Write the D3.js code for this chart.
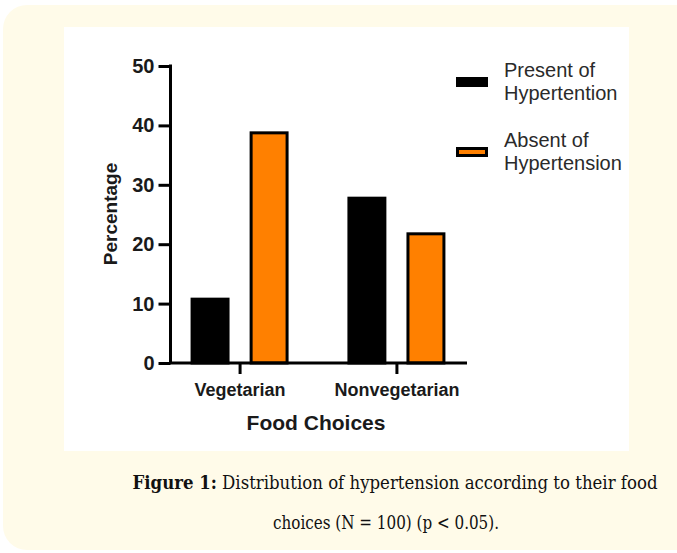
<!DOCTYPE html>
<html>
<head>
<meta charset="utf-8">
<script src="https://cdn.jsdelivr.net/npm/d3@7"></script>
<style>
  body { margin: 0; background: #ffffff; }
  svg { display: block; }
</style>
</head>
<body>
<div id="chart"></div>
<script>
// chart data
var categories = ["Vegetarian", "Nonvegetarian"];
var seriesNames = ["Present of Hypertention", "Absent of Hypertension"];
var presentValues = [11, 28];
var absentValues = [39, 22];
var yTicks = [0, 10, 20, 30, 40, 50];
var legendLines = [["Present of", "Hypertention"], ["Absent of", "Hypertension"]];
var seriesColors = ["#000000", "#ff8000"];

var W = 677, H = 553;

var svg = d3.select("#chart").append("svg")
    .attr("width", W).attr("height", H);

// page background (cream box + white figure panel)
svg.append("rect").attr("x", 3).attr("y", 5).attr("width", 700).attr("height", 545)
    .attr("rx", 24).attr("fill", "#fffbe9");
svg.append("rect").attr("x", 64).attr("y", 27).attr("width", 565).attr("height", 424)
    .attr("fill", "#ffffff");

var yScale = d3.scaleLinear().domain([0, 50]).range([363, 66]);
var xScale = d3.scalePoint().domain(categories).range([169, 467]).padding(0.45);
var subScale = d3.scaleBand().domain(seriesNames).range([-49, 49]).paddingInner(0.34);

var rows = categories.map(function(c, i) {
    return { cat: c, vals: [presentValues[i], absentValues[i]] };
});

// bars
var groups = svg.selectAll(".grp").data(rows).enter().append("g")
    .attr("class", "grp")
    .attr("transform", function(d) { return "translate(" + xScale(d.cat) + ",0)"; });

groups.selectAll("rect")
    .data(function(d) { return d.vals.map(function(v, j) { return { name: seriesNames[j], v: v, j: j }; }); })
    .enter().append("rect")
    .attr("x", function(d) { return subScale(d.name) + 1.5; })
    .attr("y", function(d) { return yScale(d.v) + 1.5; })
    .attr("width", subScale.bandwidth() - 3)
    .attr("height", function(d) { return yScale(0) - yScale(d.v) - 1.5; })
    .attr("fill", function(d) { return seriesColors[d.j]; })
    .attr("stroke", "#000").attr("stroke-width", 3);

// y axis
var yAxis = svg.append("g")
    .attr("transform", "translate(170.5,0)")
    .call(d3.axisLeft(yScale).tickValues(yTicks).tickSize(12).tickSizeOuter(0).tickPadding(4));

// x axis
var xAxis = svg.append("g")
    .attr("transform", "translate(0,363)")
    .call(d3.axisBottom(xScale).tickSize(11).tickSizeOuter(0).tickPadding(9));

[yAxis, xAxis].forEach(function(ax) {
    ax.select(".domain").attr("stroke", "#000").attr("stroke-width", 3);
    ax.selectAll(".tick line").attr("stroke", "#000").attr("stroke-width", 3);
});
yAxis.select(".domain").attr("d", "M0,64.5V363");
xAxis.select(".domain").attr("d", "M169,0H467");

yAxis.selectAll(".tick text")
    .attr("font-family", "Liberation Sans, Arial, sans-serif")
    .attr("font-weight", "bold").attr("font-size", 20).attr("fill", "#1a1a1a");
xAxis.selectAll(".tick text")
    .attr("font-family", "Liberation Sans, Arial, sans-serif")
    .attr("font-weight", "bold").attr("font-size", 18).attr("fill", "#1a1a1a");

// axis titles
svg.append("text")
    .attr("transform", "translate(117,214) rotate(-90)")
    .attr("text-anchor", "middle")
    .attr("font-family", "Liberation Sans, Arial, sans-serif")
    .attr("font-weight", "bold").attr("font-size", 19).attr("fill", "#1a1a1a")
    .text("Percentage");

svg.append("text")
    .attr("x", 316).attr("y", 430)
    .attr("text-anchor", "middle")
    .attr("font-family", "Liberation Sans, Arial, sans-serif")
    .attr("font-weight", "bold").attr("font-size", 21).attr("fill", "#1a1a1a")
    .text("Food Choices");

// legend
var legend = svg.selectAll(".leg").data(legendLines).enter().append("g")
    .attr("class", "leg")
    .attr("transform", function(d, i) { return "translate(456," + (70 + i * 70) + ")"; });

legend.append("rect")
    .attr("x", 1.5).attr("y", 8.5).attr("width", 29).attr("height", 7)
    .attr("fill", function(d, i) { return seriesColors[i]; })
    .attr("stroke", "#000").attr("stroke-width", 3);

legend.selectAll("text").data(function(d) { return d; }).enter().append("text")
    .attr("x", 48).attr("y", function(d, k) { return 7 + k * 23; })
    .attr("font-family", "Liberation Sans, Arial, sans-serif")
    .attr("font-size", 20).attr("fill", "#2a2a2a")
    .text(function(d) { return d; });

// caption
var cap1 = svg.append("text")
    .attr("x", 395).attr("y", 489)
    .attr("text-anchor", "middle")
    .attr("textLength", 525).attr("lengthAdjust", "spacingAndGlyphs")
    .attr("font-family", "DejaVu Serif Condensed, DejaVu Serif, serif")
    .attr("font-size", 18).attr("fill", "#111");
cap1.append("tspan").attr("font-weight", "bold").text("Figure 1:");
cap1.append("tspan").text(" Distribution of hypertension according to their food");

svg.append("text")
    .attr("x", 386).attr("y", 529)
    .attr("text-anchor", "middle")
    .attr("textLength", 226).attr("lengthAdjust", "spacingAndGlyphs")
    .attr("font-family", "DejaVu Serif Condensed, DejaVu Serif, serif")
    .attr("font-size", 18).attr("fill", "#111")
    .text("choices (N = 100) (p < 0.05).");
</script>
</body>
</html>
